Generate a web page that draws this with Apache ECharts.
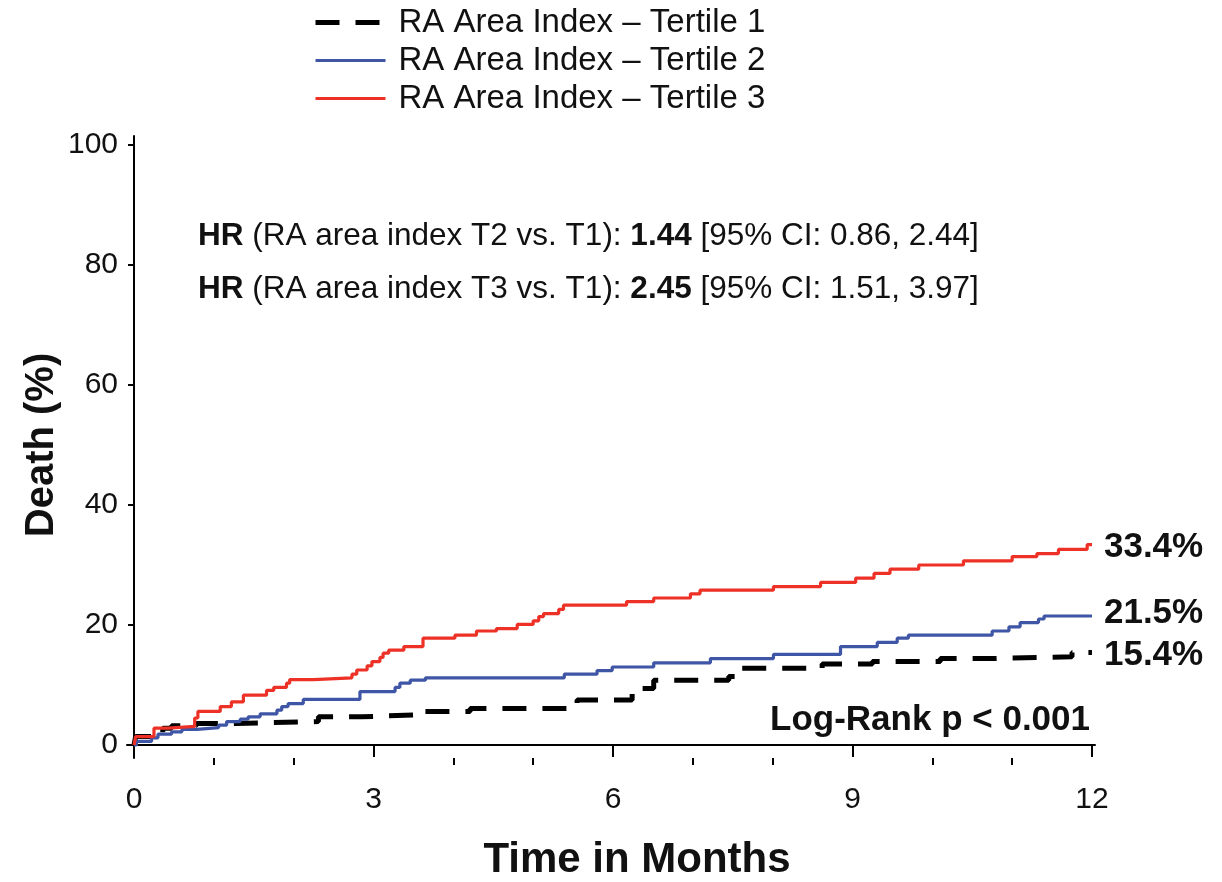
<!DOCTYPE html>
<html>
<head>
<meta charset="utf-8">
<script src="https://cdn.jsdelivr.net/npm/echarts@6/dist/echarts.min.js"></script>
<style>
html,body{margin:0;padding:0;background:#fff;}
#chart{width:1222px;height:882px;}
</style>
</head>
<body>
<div id="chart"></div>
<script>
// ---- data ----
const seriesNames = ['RA Area Index \u2013 Tertile 1', 'RA Area Index \u2013 Tertile 2', 'RA Area Index \u2013 Tertile 3'];
const endLabels = ['15.4%', '21.5%', '33.4%'];
const xMajorTicks = [0, 3, 6, 9, 12];
const xMinorTicks = [1, 2, 4, 5, 7, 8, 10, 11];
const yTicks = [0, 20, 40, 60, 80, 100];

// [months, death %]
const tertile1 = [[0,0],[0.02,1.4],[0.36,2.8],[0.47,3.2],[0.78,3.6],[1.27,3.9],[2.31,4.7],[2.85,5.0],[3.5,5.6],[4.21,6.1],[5.55,7.5],[6.24,9.4],[6.51,10.8],[7.45,11.4],[7.56,12.8],[8.62,13.5],[9.25,13.9],[10.1,14.4],[10.7,14.7],[11.75,15.4],[12.0,15.4]];
const tertile2 = [[0,0],[0.03,0.6],[0.22,1.2],[0.30,1.8],[0.47,2.2],[0.60,2.6],[0.79,2.9],[1.06,3.3],[1.16,3.9],[1.33,4.3],[1.43,4.7],[1.58,5.2],[1.79,5.8],[1.85,6.4],[1.93,6.9],[2.12,7.6],[2.83,8.9],[3.27,9.6],[3.33,10.3],[3.46,10.8],[3.65,11.2],[5.39,11.8],[5.80,12.4],[5.99,13.0],[6.51,13.7],[7.22,14.4],[8.01,15.1],[8.85,16.4],[9.31,17.1],[9.56,17.8],[9.70,18.3],[10.75,19.0],[10.96,19.7],[11.10,20.4],[11.33,21.0],[11.40,21.5],[12.0,21.5]];
const tertile3 = [[0,0],[0.02,1.4],[0.25,2.8],[0.43,3.1],[0.76,4.5],[0.80,5.6],[1.08,6.4],[1.22,7.2],[1.37,8.3],[1.66,9.1],[1.75,9.6],[1.91,10.3],[1.95,10.9],[2.25,11.2],[2.73,11.8],[2.79,12.5],[2.92,13.2],[2.98,13.9],[3.08,14.6],[3.12,15.3],[3.19,15.8],[3.38,16.4],[3.62,17.8],[4.02,18.3],[4.29,19.0],[4.54,19.4],[4.80,20.1],[5.00,20.7],[5.07,21.4],[5.13,21.9],[5.32,22.6],[5.38,23.3],[6.17,23.9],[6.51,24.5],[6.97,25.2],[7.09,25.8],[8.01,26.4],[8.60,27.1],[9.04,27.8],[9.27,28.6],[9.47,29.3],[9.83,30.0],[10.39,30.7],[11.00,31.4],[11.31,31.9],[11.58,32.6],[11.94,33.4],[12.0,33.4]];

const FONT = '"Liberation Sans", Arial, Helvetica, sans-serif';
const colors = ['#000000', '#3F55A6', '#EE3126'];
const widths = [5, 3.2, 3.2];
const dashes = [[24, 16], 'solid', 'solid'];

const chart = echarts.init(document.getElementById('chart'), null, {renderer: 'canvas'});

const xCommon = {type: 'value', min: -0.088, max: 12.038, position: 'bottom', splitLine: {show: false}};
const option = {
  animation: false,
  backgroundColor: '#fff',
  grid: {left: 127, right: 127, top: 136, bottom: 124, containLabel: false},
  legend: {
    orient: 'vertical', left: 313, top: 6, padding: 0,
    itemWidth: 70, itemHeight: 14, itemGap: 5,
    data: seriesNames.map((n, i) => ({
      name: n,
      itemStyle: {opacity: 0},
      lineStyle: {width: widths[i], type: dashes[i], color: colors[i]}
    })),
    textStyle: {fontFamily: FONT, fontSize: 33, color: '#111', padding: [0, 0, 0, 8]},
    selectedMode: false
  },
  xAxis: [
    Object.assign({}, xCommon, {
      axisLine: {show: true, lineStyle: {color: '#000', width: 2}},
      axisTick: {show: true, customValues: xMajorTicks, length: 12, lineStyle: {color: '#000', width: 2}},
      axisLabel: {show: true, customValues: xMajorTicks, margin: 27, fontFamily: FONT, fontSize: 30, color: '#111'}
    }),
    Object.assign({}, xCommon, {
      axisLine: {show: false},
      axisTick: {show: true, customValues: xMinorTicks, length: 7, lineStyle: {color: '#000', width: 2}},
      axisLabel: {show: false}
    })
  ],
  yAxis: {
    type: 'value', min: -2.17, max: 101.5,
    splitLine: {show: false},
    axisLine: {show: true, lineStyle: {color: '#000', width: 2}},
    axisTick: {show: true, customValues: yTicks, length: 6, lineStyle: {color: '#000', width: 2}},
    axisLabel: {show: true, customValues: yTicks, margin: 9, fontFamily: FONT, fontSize: 30, color: '#111'}
  },
  series: [tertile1, tertile2, tertile3].map((d, i) => ({
    name: seriesNames[i],
    type: 'line',
    step: 'end',
    data: d,
    symbol: 'none',
    color: colors[i],
    lineStyle: {color: colors[i], width: widths[i], type: dashes[i]},
    endLabel: {
      show: true,
      formatter: () => endLabels[i],
      distance: 12,
      offset: [0, i === 1 ? -3 : 3],
      fontFamily: FONT, fontSize: 35, fontWeight: 'bold', color: '#111'
    },
    z: 2 + i
  })),
  graphic: [
    {type: 'text', left: 198, top: 220, style: {
      text: '{b|HR} {r|(RA area index T2 vs. T1):} {b|1.44} {r|[95% CI: 0.86, 2.44]}',
      rich: {b: {fontFamily: FONT, fontSize: 31.5, fontWeight: 'bold', fill: '#111'}, r: {fontFamily: FONT, fontSize: 31.5, fill: '#111'}},
      fontFamily: FONT, fontSize: 31.5, fill: '#111'
    }},
    {type: 'text', left: 198, top: 273, style: {
      text: '{b|HR} {r|(RA area index T3 vs. T1):} {b|2.45} {r|[95% CI: 1.51, 3.97]}',
      rich: {b: {fontFamily: FONT, fontSize: 31.5, fontWeight: 'bold', fill: '#111'}, r: {fontFamily: FONT, fontSize: 31.5, fill: '#111'}},
      fontFamily: FONT, fontSize: 31.5, fill: '#111'
    }},
    {type: 'text', right: 1222 - 1090, top: 703, style: {
      text: 'Log-Rank p < 0.001', fontFamily: FONT, fontSize: 35, fontWeight: 'bold', fill: '#111'
    }},
    {type: 'text', x: 637, y: 860, style: {
      text: 'Time in Months', fontFamily: FONT, fontSize: 42, fontWeight: 'bold', fill: '#111', align: 'center', verticalAlign: 'middle'
    }},
    {type: 'text', x: 42, y: 445, rotation: Math.PI / 2, style: {
      text: 'Death (%)', fontFamily: FONT, fontSize: 40, fontWeight: 'bold', fill: '#111', align: 'center', verticalAlign: 'middle'
    }}
  ]
};
chart.setOption(option);
</script>
</body>
</html>
